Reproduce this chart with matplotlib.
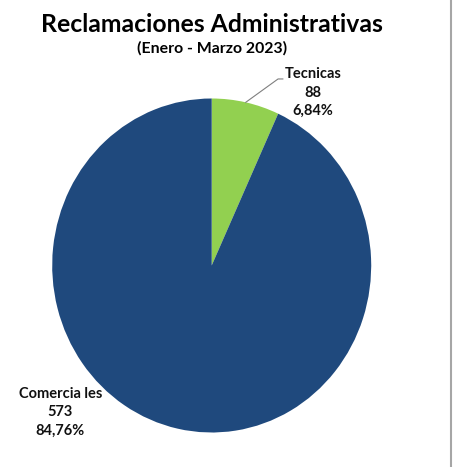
import matplotlib
matplotlib.use("Agg")
import numpy as np
import matplotlib.pyplot as plt
from matplotlib.lines import Line2D

plt.rcParams["font.family"] = ["Lato", "DejaVu Sans"]

# datos
categorias = ["Tecnicas", "Comercia les"]
cantidades = [88, 573]
porcentajes = ["6,84%", "84,76%"]
# porcion que ocupa cada sector en el grafico (%)
sectores = [6.84, 93.16]
colores = ["#92D050", "#1F497D"]

W, H = 454, 467
fig = plt.figure(figsize=(W / 100, H / 100), dpi=100)

# caja del circulo en pixeles
cx, cy, rx, ry = 211.7, 265.5, 159.5, 167.0
ax = fig.add_axes([(cx - rx) / W, 1 - (cy + ry) / H, 2 * rx / W, 2 * ry / H])
wedges, _ = ax.pie(sectores, colors=colores, startangle=90, counterclock=False,
                   wedgeprops=dict(linewidth=0))
ax.set_aspect("auto")
ax.set_xlim(-1, 1)
ax.set_ylim(-1, 1)
ax.axis("off")

# etiqueta Tecnicas con linea guia
w = wedges[0]
ang = np.deg2rad((w.theta1 + w.theta2) / 2)
x0, y0 = np.cos(ang), np.sin(ang)
lx, ly = 0.416, 1.117
ax.plot([x0, lx, lx + 0.03], [y0, ly, ly], color="#7f7f7f", lw=0.8, clip_on=False)
ax.text(0.635, 1.035, f"{categorias[0]}\n{cantidades[0]}\n{porcentajes[0]}",
        ha="center", va="center", fontsize=10.5, fontweight="bold",
        linespacing=1.38, color="#111111")

ax.text(-0.948, -0.880, f"{categorias[1]}\n{cantidades[1]}\n{porcentajes[1]}",
        ha="center", va="center", fontsize=10.5, fontweight="bold",
        linespacing=1.38, color="#111111")

fig.text(211.5 / W, 1 - 25 / H, "Reclamaciones Administrativas", ha="center",
         va="center", fontsize=17.8, fontweight="bold", color="#000000")
fig.text(212 / W, 1 - 48 / H, "(Enero - Marzo 2023)", ha="center",
         va="center", fontsize=11.4, fontweight="bold", color="#000000")

# borde derecho
fig.add_artist(Line2D([450.5 / W, 450.5 / W], [0, 1], color="#a6a6a6", lw=1.5))

fig.savefig("out.png", dpi=100)
